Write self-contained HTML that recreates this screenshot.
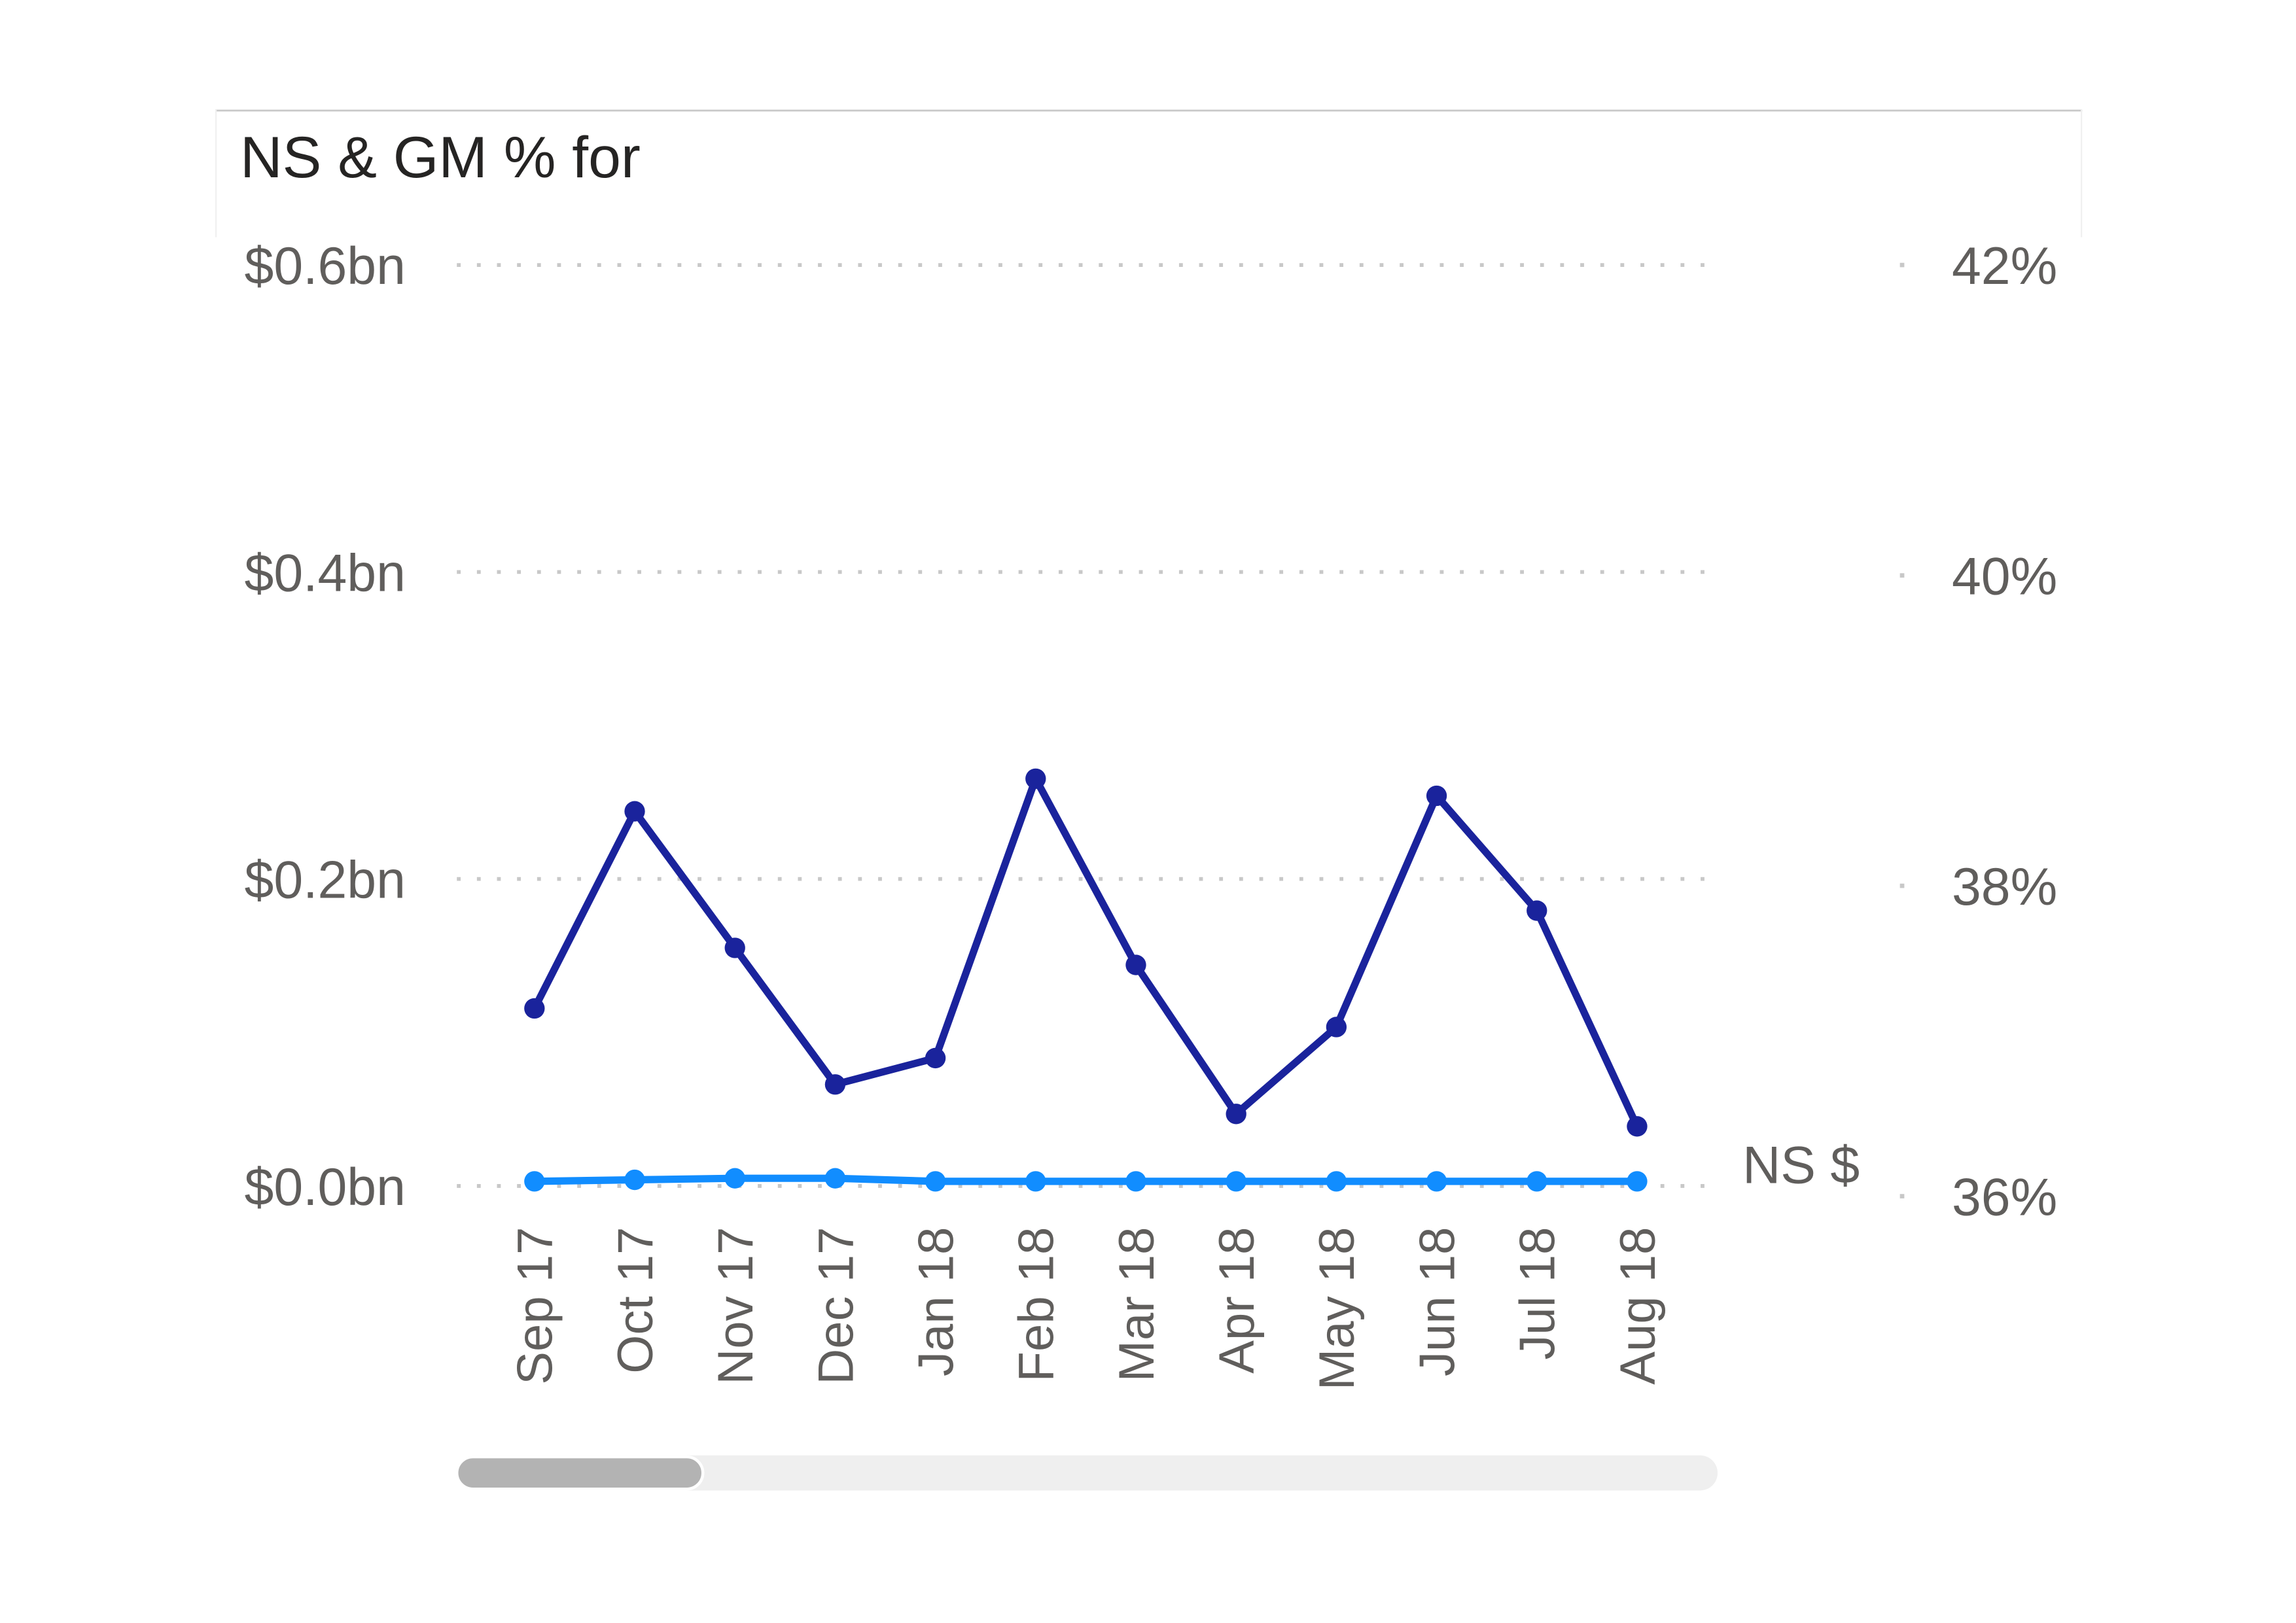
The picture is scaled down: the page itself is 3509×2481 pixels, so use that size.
<!DOCTYPE html>
<html><head><meta charset="utf-8">
<style>
html,body{margin:0;padding:0;background:#fff;}
svg{display:block;}
text{font-family:"Liberation Sans",sans-serif;}
</style></head>
<body>
<svg id="chart" width="3509" height="2481" viewBox="0 0 1568 1108.5" preserveAspectRatio="none" xmlns="http://www.w3.org/2000/svg">
  <rect x="0" y="0" width="1568" height="1108.5" fill="#fff"/>
  <g>
    <line x1="147" y1="75.5" x2="1422" y2="75.5" stroke="#c8c8c8" stroke-width="1.2"/>
    <line x1="147.5" y1="75" x2="147.5" y2="162" stroke="#f0f0f0" stroke-width="1"/>
    <line x1="1421.5" y1="75" x2="1421.5" y2="162" stroke="#f0f0f0" stroke-width="1"/>
  </g>
  <text x="164" y="121" font-size="40" fill="#252423">NS &amp; GM % for</text>
  <g id="grid"></g>
  <g id="yleft"></g>
  <g id="yright"></g>
  <g id="xaxis"></g>
  <g id="series"></g>
  <text x="1190" y="808" font-size="36" fill="#605e5c">NS $</text>
  <g>
    <rect x="312" y="994" width="861" height="24" rx="12" fill="#efefef"/>
    <rect x="312" y="995" width="168" height="22" rx="11" fill="#b3b3b3" stroke="#fff" stroke-width="2"/>
  </g>
</svg>
<script>
const categories = ["Sep 17","Oct 17","Nov 17","Dec 17","Jan 18","Feb 18","Mar 18","Apr 18","May 18","Jun 18","Jul 18","Aug 18"];
const gmPct = [37.21,38.48,37.60,36.72,36.89,38.69,37.49,36.53,37.09,38.58,37.84,36.45];
const nsBn = [0.003,0.004,0.005,0.005,0.003,0.003,0.003,0.003,0.003,0.003,0.003,0.003];
const leftTicks = [0,0.2,0.4,0.6];
const leftTickLabels = ["$0.0bn","$0.2bn","$0.4bn","$0.6bn"];
const rightTicks = [36,38,40,42];
const rightTickLabels = ["36%","38%","40%","42%"];

const NS = "http://www.w3.org/2000/svg";
const yL = v => 810 - v / 0.6 * (810 - 181);
const yR = v => 817 - (v - 36) / 6 * (817 - 181);
const xC = i => 365 + i * (1118 - 365) / (categories.length - 1);
function mk(tag, attrs, parent){const e=document.createElementNS(NS,tag);for(const k in attrs)e.setAttribute(k,attrs[k]);parent.appendChild(e);return e;}

const grid=document.getElementById('grid'), yl=document.getElementById('yleft'), yr=document.getElementById('yright'), xa=document.getElementById('xaxis'), ser=document.getElementById('series');

leftTicks.forEach((t,i)=>{
  const y=yL(t);
  const g=mk('line',{x1:312,y1:y,x2:1172,y2:y,stroke:'#c8c8c8','stroke-width':2.6,'stroke-dasharray':'2.6 11.1'},grid);
  
  
  const tx=mk('text',{x:277,y:y+13,'font-size':36,fill:'#605e5c','text-anchor':'end'},yl);
  tx.textContent=leftTickLabels[i];
  
  
});
rightTicks.forEach((t,i)=>{
  const y=yR(t);
  const d=mk('rect',{x:1297.5,y:y-1.5,width:3,height:3,fill:'#c8c8c8'},yr);
  
  
  const tx=mk('text',{x:1405,y:y+13,'font-size':36,fill:'#605e5c','text-anchor':'end'},yr);
  tx.textContent=rightTickLabels[i];
  
  
});
categories.forEach((c,i)=>{
  const x=xC(i);
  const tx=mk('text',{x:0,y:0,'font-size':34,fill:'#605e5c','text-anchor':'end',transform:`translate(${x+12},838) rotate(-90)`},xa);
  tx.textContent=c;
  
  
});
function drawSeries(vals, yf, color, name){
  const pl=mk('polyline',{points:vals.map((v,i)=>xC(i)+','+yf(v)).join(' '),fill:'none',stroke:color,'stroke-width':5,'stroke-linejoin':'round'},ser);
  
  
  vals.forEach((v,i)=>{
    const c=mk('circle',{cx:xC(i),cy:yf(v),r:7,fill:color},ser);
    
    
  });
}
drawSeries(gmPct,yR,'#1a239c','gm-pct');
drawSeries(nsBn,yL,'#118dff','ns');
</script>
</body></html>
